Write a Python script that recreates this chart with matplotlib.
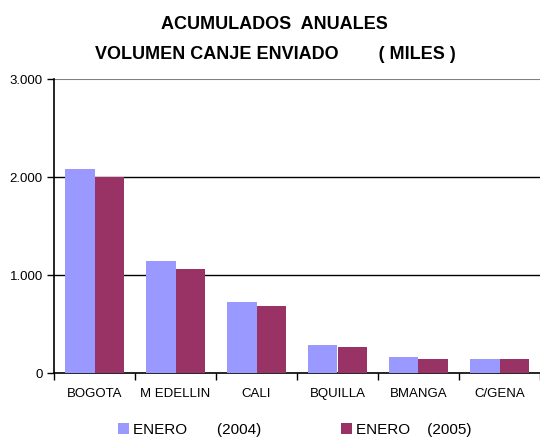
import numpy as np
import matplotlib
matplotlib.use("Agg")
import matplotlib.pyplot as plt
from matplotlib.ticker import FuncFormatter, FixedLocator

# data (miles)
ciudades = ["BOGOTA", "M EDELLIN", "CALI", "BQUILLA", "BMANGA", "C/GENA"]
enero_2004 = [2082, 1145, 725, 285, 165, 145]
enero_2005 = [2003, 1063, 688, 268, 147, 145]
etiquetas = ["ENERO       (2004)", "ENERO    (2005)"]
colores = ["#9999FF", "#993366"]

plt.rcParams['font.family'] = ['Liberation Sans', 'DejaVu Sans']

fig = plt.figure(figsize=(5.40, 4.37), dpi=100)
ax = fig.add_axes([54 / 540, (437 - 373) / 437, 486 / 540, (373 - 79) / 437])

x = np.arange(len(ciudades))
w = 0.36
b1 = ax.bar(x - w / 2, enero_2004, w, color=colores[0], zorder=3)
b2 = ax.bar(x + w / 2, enero_2005, w, color=colores[1], zorder=3)

ax.set_xlim(-0.5, len(ciudades) - 0.5)
ax.set_ylim(0, 3000)
ax.set_yticks([0, 1000, 2000, 3000])
ax.yaxis.set_major_formatter(FuncFormatter(lambda v, p: f"{int(v):,}".replace(",", ".")))
for yv in [1000, 2000]:
    ax.axhline(yv, color="black", lw=1, zorder=1)
ax.axhline(3000, color="#808080", lw=1.5, zorder=1)

ax.set_xticks(x)
ax.set_xticklabels(ciudades, fontsize=9.5)
ax.xaxis.set_minor_locator(FixedLocator(np.arange(len(ciudades) + 1) - 0.5))
ax.tick_params(axis="x", which="major", length=0, pad=11)
ax.tick_params(axis="x", which="minor", length=5, width=1, direction="out")
ax.tick_params(axis="y", length=5, width=1, direction="out", labelsize=9.5, pad=3)

for s in ["top", "right"]:
    ax.spines[s].set_visible(False)
ax.spines["left"].set_linewidth(1.2)
ax.spines["bottom"].set_linewidth(1.2)

# titulo
fig.text(0.509, 0.945, "ACUMULADOS  ANUALES", ha="center", va="center",
         fontsize=13, fontweight="bold")
fig.text(0.510, 0.876, "VOLUMEN CANJE ENVIADO        ( MILES )", ha="center", va="center",
         fontsize=13, fontweight="bold")

fig.legend([b1, b2], etiquetas, loc="center left", bbox_to_anchor=(112 / 540, 1 - 430 / 437),
           ncol=2, frameon=False, fontsize=11, handlelength=0.7, handleheight=0.7,
           handletextpad=0.3, columnspacing=5.2, borderaxespad=0)

fig.savefig("out.png", dpi=100)
